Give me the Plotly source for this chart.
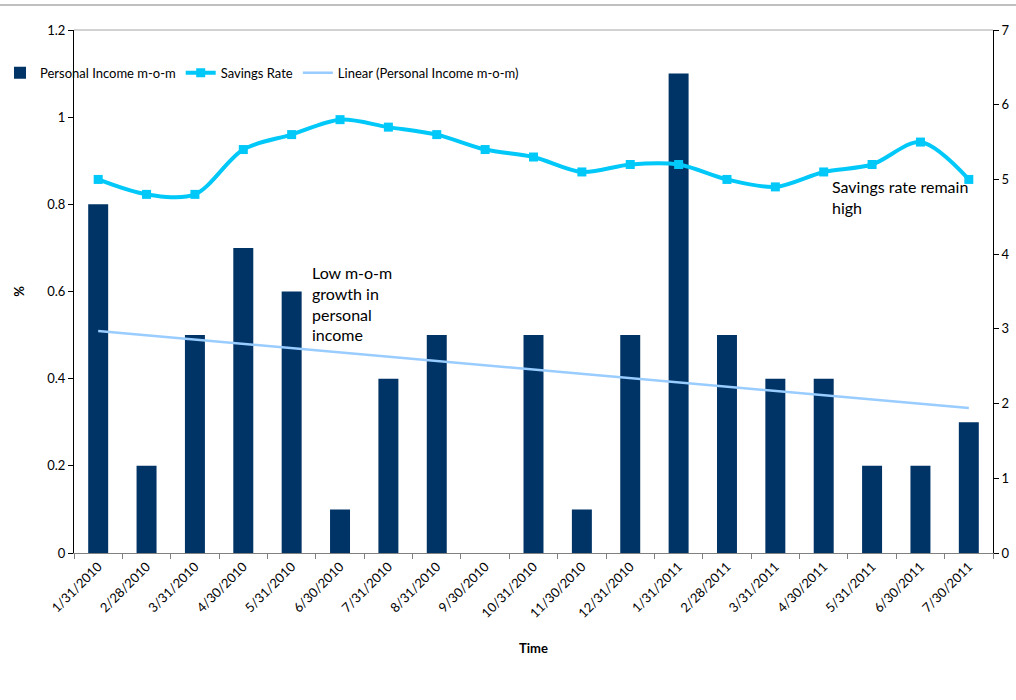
import numpy as np
import plotly.graph_objects as go

dates = ["1/31/2010", "2/28/2010", "3/31/2010", "4/30/2010", "5/31/2010", "6/30/2010",
         "7/31/2010", "8/31/2010", "9/30/2010", "10/31/2010", "11/30/2010", "12/31/2010",
         "1/31/2011", "2/28/2011", "3/31/2011", "4/30/2011", "5/31/2011", "6/30/2011",
         "7/30/2011"]
income_mom = [0.8, 0.2, 0.5, 0.7, 0.6, 0.1, 0.4, 0.5, 0.0, 0.5, 0.1, 0.5,
              1.1, 0.5, 0.4, 0.4, 0.2, 0.2, 0.3]
savings_rate = [5.0, 4.8, 4.8, 5.4, 5.6, 5.8, 5.7, 5.6, 5.4, 5.3, 5.1, 5.2,
                5.2, 5.0, 4.9, 5.1, 5.2, 5.5, 5.0]

# linear trendline of the bar series
idx = np.arange(len(income_mom))
slope, intercept = np.polyfit(idx, income_mom, 1)
trend = (slope * idx + intercept).tolist()

FONT = "Lato"
fig = go.Figure()
fig.add_trace(go.Bar(x=dates, y=income_mom, name="Personal Income m-o-m",
                     marker=dict(color="#003366", line=dict(width=0)), yaxis="y"))
fig.add_trace(go.Scatter(x=dates, y=savings_rate, name="Savings Rate", yaxis="y2",
                         mode="lines+markers",
                         line=dict(color="#00C8F8", width=4, shape="spline", smoothing=0.9),
                         marker=dict(symbol="square", size=9, color="#00C8F8")))
fig.add_trace(go.Scatter(x=dates, y=trend, name="Linear (Personal Income m-o-m)", yaxis="y",
                         mode="lines", line=dict(color="#99CCFF", width=2.5)))

fig.update_layout(
    width=1016, height=700,
    margin=dict(l=74, r=23, t=30, b=147, autoexpand=False),
    paper_bgcolor="white", plot_bgcolor="white",
    font=dict(family=FONT, size=13, color="#000000"),
    bargap=0.587,
    showlegend=True,
    legend=dict(orientation="h", xref="container", yref="container", x=-0.005, y=0.896,
                xanchor="left", yanchor="middle", font=dict(size=13, family=FONT),
                bgcolor="rgba(0,0,0,0)", itemwidth=30, tracegroupgap=0),
    xaxis=dict(type="category", range=[-0.5, len(dates) - 0.5], tickangle=-45,
               tickson="boundaries", ticks="outside",
               ticklen=5, tickcolor="#808080", showline=True, linecolor="#808080",
               linewidth=1, showgrid=False, tickfont=dict(size=13), automargin=False,
               title=dict(text="<b>Time</b>", font=dict(size=13), standoff=24)),
    yaxis=dict(range=[0, 1.2], dtick=0.2, ticks="outside", ticklen=5, tickcolor="#000000",
               showline=True, linecolor="#000000", linewidth=1, showgrid=False,
               zeroline=False, tickfont=dict(size=13), automargin=False,
               title=dict(text="<b>%</b>", font=dict(size=13), standoff=19)),
    yaxis2=dict(range=[0, 7], dtick=1, overlaying="y", side="right", ticks="outside",
                ticklen=5, tickcolor="#000000", showline=True, linecolor="#000000",
                linewidth=1, showgrid=False, zeroline=False, tickfont=dict(size=13),
                automargin=False),
    shapes=[
        dict(type="line", xref="paper", yref="paper", x0=0, x1=1, y0=1, y1=1,
             line=dict(color="#A6A6A6", width=1)),
        dict(type="line", xref="paper", yref="paper", x0=-0.081, x1=1.026, y0=1.048, y1=1.048,
             line=dict(color="#BFBFBF", width=2)),
    ],
    annotations=[
        dict(text="Low m-o-m<br>growth in<br>personal<br>income", xref="paper", yref="paper",
             x=(310 - 74) / 919, y=(553 - 261) / 523, xanchor="left", yanchor="top",
             align="left", showarrow=False, font=dict(size=16, family=FONT)),
        dict(text="Savings rate remain<br>high", xref="paper", yref="paper",
             x=(830 - 74) / 919, y=(553 - 175) / 523, xanchor="left", yanchor="top",
             align="left", showarrow=False, font=dict(size=16, family=FONT)),
    ],
)

fig.write_html("out.html")
